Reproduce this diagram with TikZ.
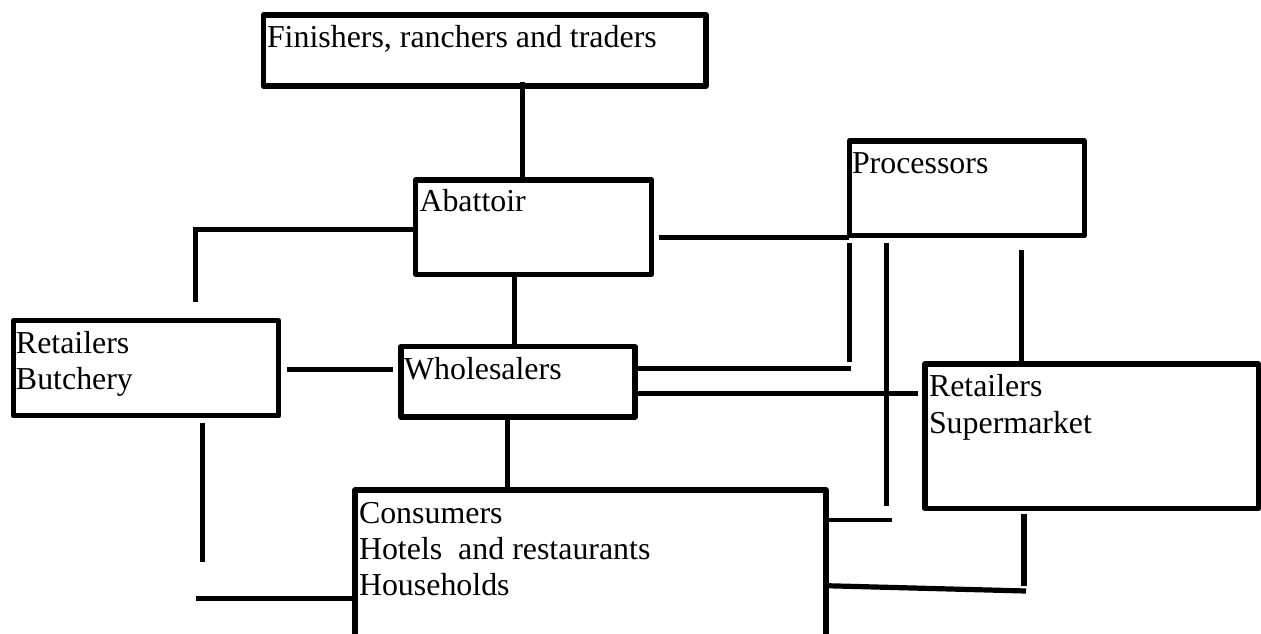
\documentclass[tikz,border=0pt]{standalone}
\usepackage{fontspec}
\setmainfont{Liberation Serif}
\begin{document}
\begin{tikzpicture}[x=1pt,y=-1pt,
  box/.style={draw=black,line width=5.5pt,line join=round,inner sep=0pt,outer sep=0pt,anchor=north west},
  conn/.style={draw=black,line width=5.2pt},
  thinconn/.style={draw=black,line width=4.6pt},
  txt/.style={inner sep=0pt,outer sep=0pt,anchor=base west,font=\fontsize{31.9}{36.3}\selectfont}]
\useasboundingbox (0,0) rectangle (1261,633);
\clip (0,0) rectangle (1261,633);
\fill[white] (0,0) rectangle (1261,633);
% boxes
\node[box,minimum width=442.7pt,minimum height=71pt] (fin) at (263.3,15) {};
\node[box,minimum width=236pt,minimum height=94.3pt] (abat) at (415.7,180) {};
\node[box,minimum width=235pt,minimum height=94.7pt] (proc) at (849.3,141) {};
\node[box,minimum width=265.4pt,minimum height=95pt] (butch) at (13.3,320.7) {};
\node[box,minimum width=234pt,minimum height=70.3pt] (whole) at (401,346.7) {};
\node[box,minimum width=333.3pt,minimum height=144.3pt] (super) at (925,364) {};
\node[box,minimum width=471pt,minimum height=150pt] (cons) at (355,490) {};
% texts
\node[txt] (fin-t) at ([shift={(3.7,32.7)}]fin.north west) {Finishers, ranchers and traders};
\node[txt] (abat-t) at ([shift={(3.8,31.7)}]abat.north west) {Abattoir};
\node[txt] (proc-t) at ([shift={(2.7,32.3)}]proc.north west) {Processors};
\node[txt] (butch-t) at ([shift={(2.7,32.6)}]butch.north west) {\parbox[t]{240pt}{Retailers\\Butchery}};
\node[txt] (whole-t) at ([shift={(3,32.5)}]whole.north west) {Wholesalers};
\node[txt] (super-t) at ([shift={(4,32.7)}]super.north west) {\parbox[t]{300pt}{Retailers\\Supermarket}};
\node[txt] (cons-t) at ([shift={(4,33.3)}]cons.north west) {\parbox[t]{440pt}{Consumers\\Hotels\ \ and restaurants\\Households}};
% free ends
\coordinate (ab1) at (195.4,301.5);
\coordinate (pw) at (851,368.3);
\coordinate (pv) at (849.3,362.3);
\coordinate (pc1) at (886.7,505.7);
\coordinate (pc2) at (891.7,520);
\coordinate (sc1) at (1024,585.7);
\coordinate (sc2) at (1026,591);
\coordinate (bc1) at (202.7,561.7);
\coordinate (bc2) at (195.7,598.7);
% connectors
\draw[conn] ([shift={(259.4,-4)}]fin.south west) -- ([shift={(107,0)}]abat.north west);
\draw[conn] ([shift={(0,49.3)}]abat.north west) -| (ab1);
\draw[conn] ([shift={(7.6,2)}]abat.north east |- proc.south west) -- ([shift={(0,2)}]proc.south west);
\draw[conn] ([shift={(99,0)}]abat.south west) -- ([shift={(113.7,0)}]whole.north west);
\draw[conn] ([shift={(8.6,48.6)}]butch.north east) -- ([shift={(-7.7,22.6)}]whole.north west);
\draw[thinconn] ([shift={(0,21.6)}]whole.north east) -- (pw);
\draw[thinconn] ([shift={(0,7.6)}]proc.south west) -- (pv);
\draw[conn] ([shift={(0,46.6)}]whole.north east) -- ([shift={(-7.3,29.3)}]super.north west);
\draw[thinconn] ([shift={(37.4,7.6)}]proc.south west) -- (pc1);
\draw[thinconn] ([shift={(0,30)}]cons.north east) -- (pc2);
\draw[conn] ([shift={(172.4,14.3)}]proc.south west) -- ([shift={(96.7,0)}]super.north west);
\draw[conn] ([shift={(99,5.7)}]super.south west) -- (sc1);
\draw[conn] ([shift={(0,95.7)}]cons.north east) -- (sc2);
\draw[conn] ([shift={(106.5,0)}]whole.south west) -- ([shift={(152.5,0)}]cons.north west);
\draw[conn] ([shift={(189.4,7)}]butch.south west) -- (bc1);
\draw[conn] (bc2) -- ([shift={(0,108.7)}]cons.north west);
\end{tikzpicture}
\end{document}
